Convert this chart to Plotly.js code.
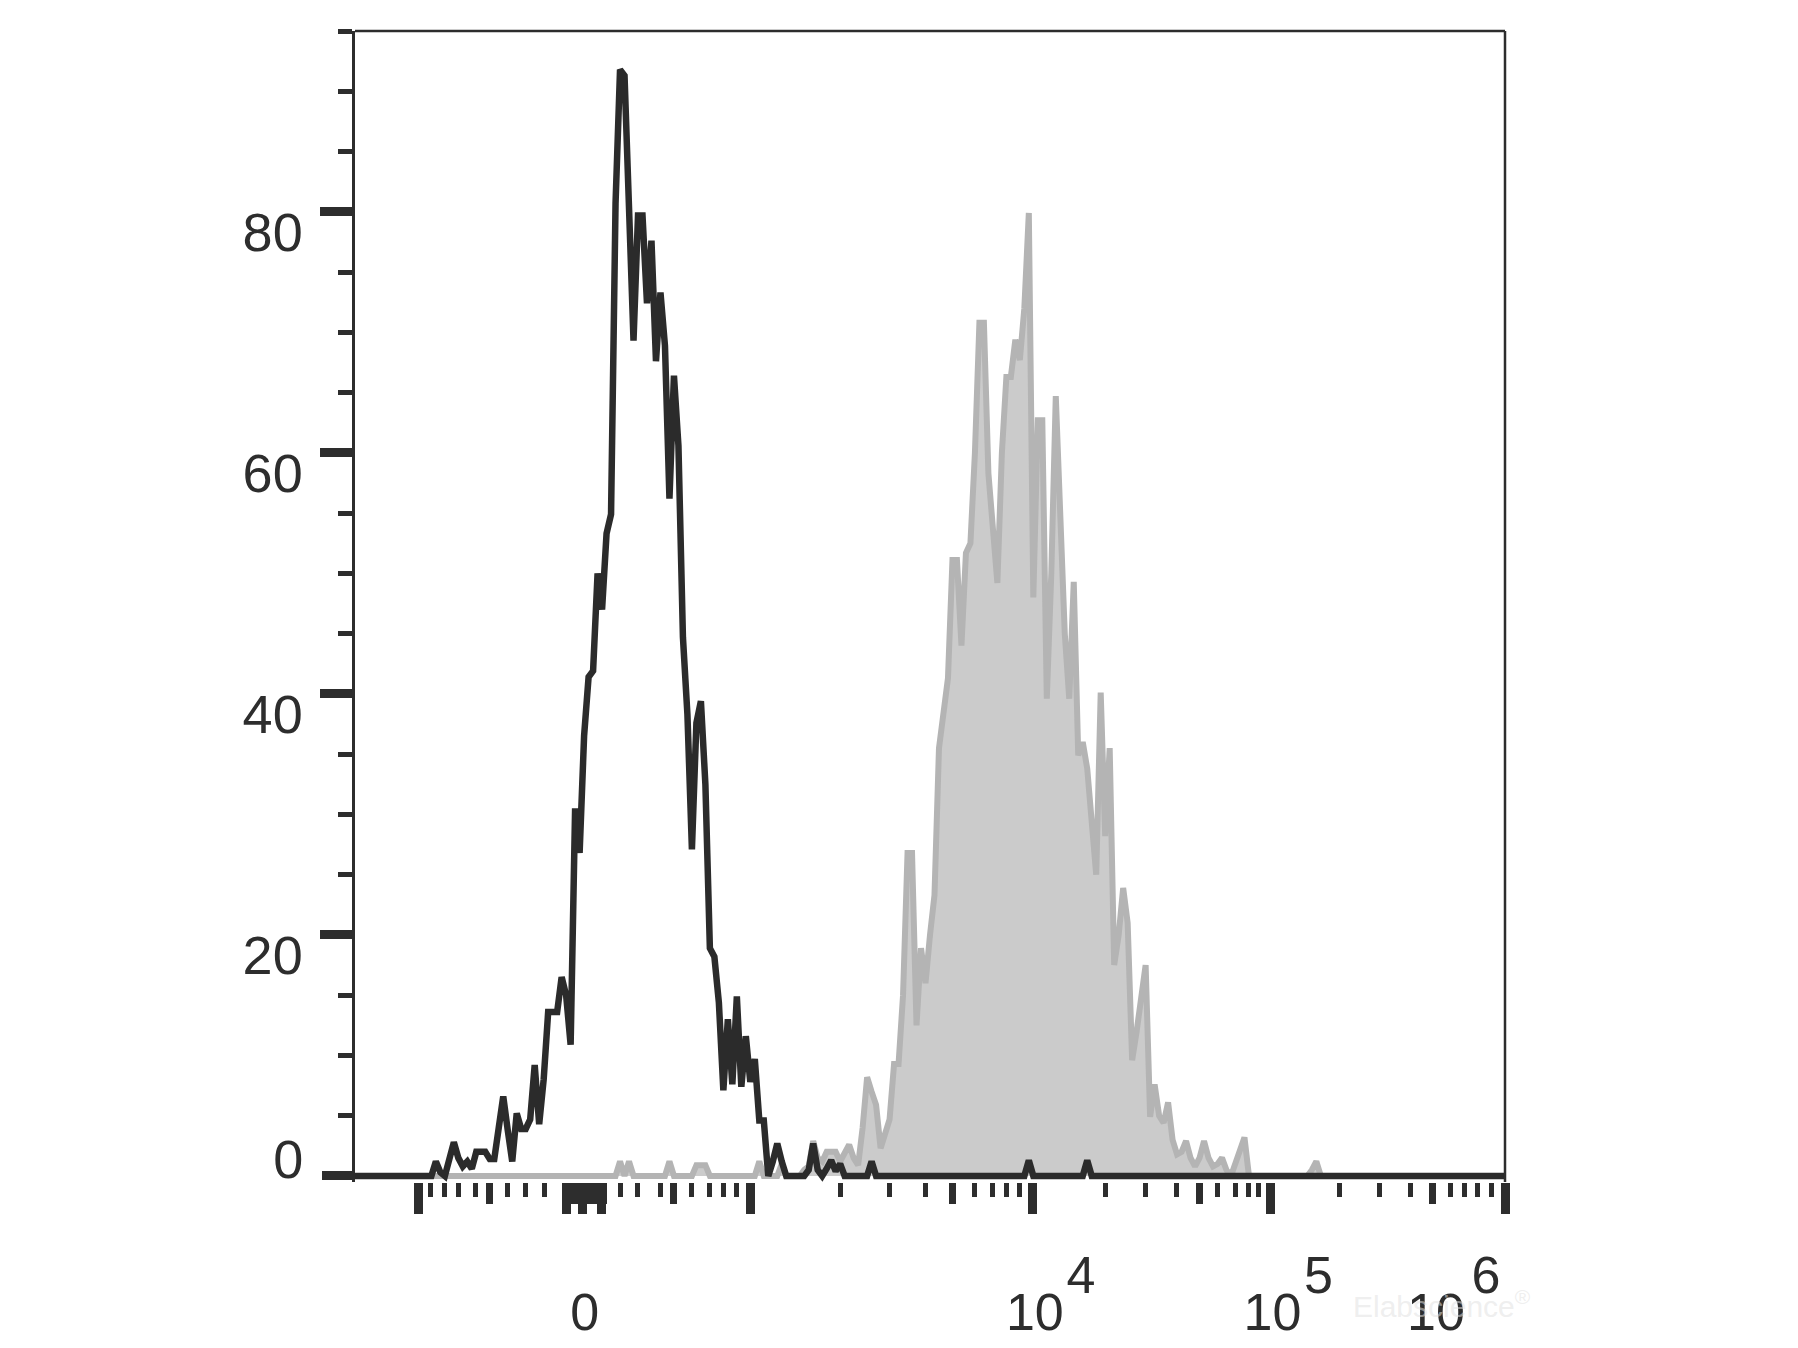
<!DOCTYPE html>
<html>
<head>
<meta charset="utf-8">
<script src="https://cdn.plot.ly/plotly-3.0.1.min.js"></script>
<style>
  html, body { margin: 0; padding: 0; background: #ffffff; }
  #chart { width: 1798px; height: 1348px; }
</style>
</head>
<body>
<div id="chart"></div>
<script>
// Histogram counts per display channel (0..256)
const blackCounts = [
  0, 0, 0, 0, 0, 0, 0, 0, 0, 0,
  0, 0, 0, 0, 0, 0, 0, 0, 1.2, 0.3,
  0, 1.5, 2.8, 1.5, 0.8, 1.2, 0.6, 2.0, 2.0, 2.0,
  1.4, 1.4, 4.0, 6.6, 3.8, 1.2, 5.2, 3.9, 3.9, 4.7,
  9.2, 4.3, 8.0, 13.6, 13.6, 13.6, 16.5, 15.0, 10.9, 30.5,
  26.8, 36.5, 41.4, 41.9, 50.0, 47.0, 53.3, 54.9, 80.7, 91.8,
  91.3, 79.4, 69.3, 79.7, 79.7, 72.4, 77.6, 67.6, 73.3, 68.9,
  56.2, 66.4, 60.6, 44.7, 38.3, 27.1, 37.6, 39.4, 32.5, 18.9,
  18.2, 14.4, 7.1, 13.0, 7.6, 14.9, 7.4, 11.6, 7.8, 9.7,
  4.6, 4.6, 0, 1.2, 2.7, 1.2, 0, 0, 0, 0,
  0, 0.5, 2.7, 0.5, 0, 0.6, 1.3, 0.4, 1.0, 0,
  0, 0, 0, 0, 0, 1.2, 0, 0, 0, 0,
  0, 0, 0, 0, 0, 0, 0, 0, 0, 0,
  0, 0, 0, 0, 0, 0, 0, 0, 0, 0,
  0, 0, 0, 0, 0, 0, 0, 0, 0, 0,
  1.3, 0, 0, 0, 0, 0, 0, 0, 0, 0,
  0, 0, 0, 1.3, 0, 0, 0, 0, 0, 0,
  0, 0, 0, 0, 0, 0, 0, 0, 0, 0,
  0, 0, 0, 0, 0, 0, 0, 0, 0, 0,
  0, 0, 0, 0, 0, 0, 0, 0, 0, 0,
  0, 0, 0, 0, 0, 0, 0, 0, 0, 0,
  0, 0, 0, 0, 0, 0, 0, 0, 0, 0,
  0, 0, 0, 0, 0, 0, 0, 0, 0, 0,
  0, 0, 0, 0, 0, 0, 0, 0, 0, 0,
  0, 0, 0, 0, 0, 0, 0, 0, 0, 0,
  0, 0, 0, 0, 0, 0, 0
];

const grayCounts = [
  0, 0, 0, 0, 0, 0, 0, 0, 0, 0,
  0, 0, 0, 0, 0, 0, 0, 0, 0, 0,
  0, 0, 0, 0, 0, 0, 0, 0, 0, 0,
  0, 0, 0, 0, 0, 0, 0, 0, 0, 0,
  0, 0, 0, 0, 0, 0, 0, 0, 0, 0,
  0, 0, 0, 0, 0, 0, 0, 0, 0, 1.2,
  0, 1.2, 0, 0, 0, 0, 0, 0, 0, 0,
  1.2, 0, 0, 0, 0, 0, 0.9, 0.9, 0.9, 0,
  0, 0, 0, 0, 0, 0, 0, 0, 0, 0,
  1.2, 0, 0, 0, 0, 1.0, 0, 0, 0, 0,
  0.5, 0.8, 2.9, 1.5, 1.2, 2.0, 2.0, 2.0, 1.2, 1.8,
  2.6, 1.5, 0.9, 4.0, 8.2, 7.0, 5.9, 2.3, 3.5, 4.7,
  9.3, 9.3, 15.0, 26.8, 26.8, 12.5, 18.9, 16.0, 20.0, 23.3,
  35.5, 38.0, 41.3, 51.1, 51.1, 44.0, 51.7, 52.5, 60.0, 70.8,
  70.8, 58.3, 54.0, 49.2, 60.0, 66.3, 66.3, 69.4, 67.7, 72.0,
  79.9, 48.0, 62.7, 62.7, 39.6, 50.0, 64.7, 55.0, 45.0, 39.6,
  49.3, 34.9, 36.0, 33.8, 30.0, 25.0, 40.1, 28.2, 35.5, 17.5,
  20.0, 23.9, 21.0, 9.6, 12.0, 15.0, 17.5, 4.9, 7.6, 5.0,
  4.4, 6.1, 3.0, 1.8, 2.0, 2.9, 1.5, 0.8, 1.5, 2.9,
  1.5, 0.8, 1.0, 1.5, 0.5, 0, 1.0, 2.0, 3.2, 0,
  0, 0, 0, 0, 0, 0, 0, 0, 0, 0,
  0, 0, 0, 0.5, 1.2, 0, 0, 0, 0, 0,
  0, 0, 0, 0, 0, 0, 0, 0, 0, 0,
  0, 0, 0, 0, 0, 0, 0, 0, 0, 0,
  0, 0, 0, 0, 0, 0, 0, 0, 0, 0,
  0, 0, 0, 0, 0, 0, 0
];

// Channel of each bin (display units of the biexponential axis)
const channels = blackCounts.map((_, i) => i);

// X axis (biexponential display) tick positions, in channels
const xLongTicks = [14.1, 47.1, 50.7, 54.9, 88.1, 150.9, 203.8, 256];
const xMediumTicks = [30.0, 46.8, 47.8, 48.7, 49.7, 50.6, 51.6, 52.5, 53.5, 54.4, 55.4, 70.9, 133.0, 188.0, 239.9];
const xShortTicks = [16.9, 20.0, 23.0, 26.9, 34.0, 38.0, 42.1, 59.0, 62.8, 67.9, 75.0, 79.0, 82.0, 85.0,
  108.0, 118.9, 126.9, 138.0, 142.0, 145.1, 147.9,
  167.0, 175.9, 182.9, 192.0, 195.9, 199.0, 201.1,
  219.1, 228.0, 234.9, 243.9, 246.9, 249.9, 252.9];
const xLabelVals = [50.7, 150.9, 203.8];
const xLabelText = ['0', '10', '10'];
const xExpVals = [150.9, 203.8];
const xExpText = ['4', '5'];
const xLastVal = [256];
const xLastText = ['10'];
const xLastExp = ['6'];

// Y axis ticks
const yMajorVals = [20, 40, 60, 80];
const yMajorText = ['20', '40', '60', '80'];
const yZeroVal = [0];
const yZeroText = ['0'];
const yMinorVals = [5, 10, 15, 25, 30, 35, 45, 50, 55, 65, 70, 75, 85, 90, 95];

const ink = '#2d2d2d';
const XR = [0, 256];
const YR = [-0.5, 95];
const FONT = 'Liberation Sans, Arial, Helvetica, sans-serif';

const traces = [
  {
    type: 'scatter', mode: 'lines', x: channels, y: grayCounts,
    fill: 'tozeroy', fillcolor: '#cbcbcb',
    line: { color: '#b4b4b4', width: 6 },
    xaxis: 'x', yaxis: 'y', hoverinfo: 'skip'
  },
  {
    type: 'scatter', mode: 'lines', x: channels, y: blackCounts,
    line: { color: '#2b2b2b', width: 6.5 },
    xaxis: 'x', yaxis: 'y', hoverinfo: 'skip'
  },
  { type: 'scatter', mode: 'lines', x: [], y: [], xaxis: 'x2', yaxis: 'y' },
  { type: 'scatter', mode: 'lines', x: [], y: [], xaxis: 'x3', yaxis: 'y' },
  { type: 'scatter', mode: 'lines', x: [], y: [], xaxis: 'x4', yaxis: 'y' },
  { type: 'scatter', mode: 'lines', x: [], y: [], xaxis: 'x5', yaxis: 'y' },
  { type: 'scatter', mode: 'lines', x: [], y: [], xaxis: 'x6', yaxis: 'y' },
  { type: 'scatter', mode: 'lines', x: [], y: [], xaxis: 'x', yaxis: 'y2' }
];

function labelAxis(vals, text, shift, standoff) {
  return {
    overlaying: 'x', anchor: 'y', side: 'bottom', range: XR,
    tickmode: 'array', tickvals: vals, ticktext: text,
    ticks: '', showgrid: false, zeroline: false, showline: false,
    tickfont: { family: FONT, size: 52, color: ink },
    ticklabelshift: shift, ticklabelstandoff: standoff
  };
}

const layout = {
  width: 1798, height: 1348,
  margin: { l: 355, r: 293, t: 31, b: 166, pad: 0 },
  paper_bgcolor: '#ffffff', plot_bgcolor: '#ffffff',
  showlegend: false,
  font: { family: FONT, size: 52, color: ink },
  xaxis: {
    range: XR, tickmode: 'array', tickvals: xLongTicks, showticklabels: false,
    ticks: 'outside', ticklen: 31, tickwidth: 9, tickcolor: ink,
    showgrid: false, zeroline: false, showline: false,
    minor: { tickmode: 'array', tickvals: xShortTicks, ticks: 'outside', ticklen: 14, tickwidth: 5, tickcolor: ink, showgrid: false }
  },
  xaxis2: {
    overlaying: 'x', anchor: 'y', side: 'bottom', range: XR,
    tickmode: 'array', tickvals: xMediumTicks, showticklabels: false,
    ticks: 'outside', ticklen: 21, tickwidth: 7, tickcolor: ink,
    showgrid: false, zeroline: false, showline: false
  },
  xaxis3: labelAxis(xLabelVals, xLabelText, 2, 95),
  xaxis4: labelAxis(xExpVals, xExpText, 48, 58),
  xaxis5: labelAxis(xLastVal, xLastText, -69, 95),
  xaxis6: labelAxis(xLastVal, xLastExp, -19, 58),
  yaxis: {
    range: YR, tickmode: 'array', tickvals: yMajorVals, ticktext: yMajorText,
    ticks: 'outside', ticklen: 32, tickwidth: 9, tickcolor: ink,
    showgrid: false, zeroline: false, showline: true, linewidth: 3.5, linecolor: ink,
    tickfont: { family: FONT, size: 54, color: ink },
    ticklabelshift: 20, ticklabelstandoff: 6,
    minor: { tickmode: 'array', tickvals: yMinorVals, ticks: 'outside', ticklen: 14, tickwidth: 5, tickcolor: ink, showgrid: false }
  },
  yaxis2: {
    overlaying: 'y', anchor: 'x', side: 'left', range: YR,
    tickmode: 'array', tickvals: yZeroVal, ticktext: yZeroText,
    ticks: 'outside', ticklen: 32, tickwidth: 9, tickcolor: ink,
    showgrid: false, zeroline: false, showline: false,
    tickfont: { family: FONT, size: 54, color: ink },
    ticklabelshift: -17, ticklabelstandoff: 8
  },
  shapes: [
    { type: 'line', xref: 'paper', yref: 'paper', x0: 0, x1: 1, y0: 1, y1: 1, line: { color: ink, width: 2.5 } },
    { type: 'line', xref: 'paper', yref: 'paper', x0: 1, x1: 1, y0: 0, y1: 1, line: { color: ink, width: 2.5 } }
  ],
  annotations: [
    {
      xref: 'paper', yref: 'paper', x: 0.945, y: -0.106,
      xanchor: 'center', yanchor: 'middle', showarrow: false,
      text: 'Elabscience<sup>®</sup>',
      font: { family: FONT, size: 30, color: 'rgba(225,225,225,0.55)' }
    }
  ]
};

Plotly.newPlot('chart', traces, layout, { staticPlot: true, displayModeBar: false });
</script>
</body>
</html>
